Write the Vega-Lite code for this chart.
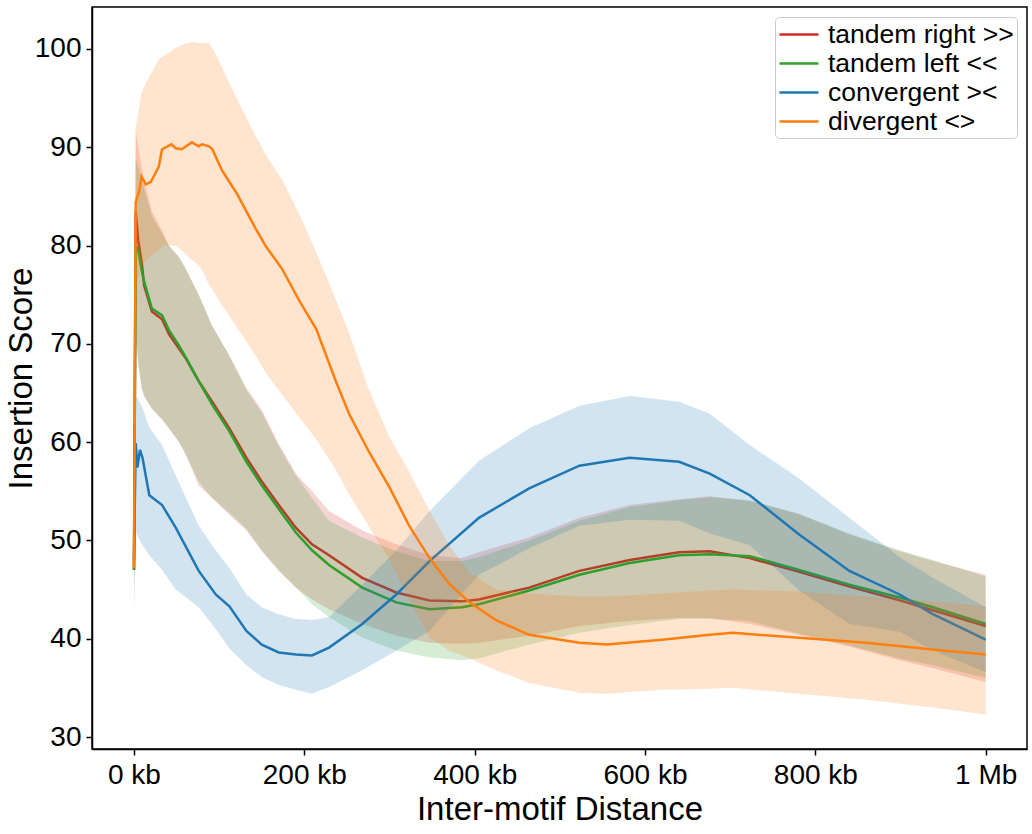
{
  "$schema": "https://vega.github.io/schema/vega-lite/v6.json",
  "width": 935,
  "height": 742,
  "autosize": {"type": "none"},
  "padding": {"left": 92, "top": 7, "right": 5, "bottom": 85},
  "background": "white",
  "config": {
    "font": "Liberation Sans",
    "view": {"stroke": "black", "strokeWidth": 1.5},
    "axis": {
      "grid": false,
      "domainColor": "black",
      "domainWidth": 1.5,
      "tickColor": "black",
      "tickWidth": 1.5,
      "tickSize": 6,
      "labelColor": "black",
      "labelFontSize": 28,
      "labelFont": "Liberation Sans",
      "titleColor": "black",
      "titleFontSize": 33,
      "titleFontWeight": "normal",
      "titleFont": "Liberation Sans"
    }
  },
  "data": {
    "values": [
      {"s": "tandem right >>", "x": 0, "m": 47.0, "lo": 42.5, "hi": 51.5},
      {"s": "tandem right >>", "x": 2, "m": 83.5, "lo": 72.0, "hi": 91.8},
      {"s": "tandem right >>", "x": 5, "m": 80.5, "lo": 68.0, "hi": 90.0},
      {"s": "tandem right >>", "x": 9, "m": 78.3, "lo": 65.5, "hi": 88.0},
      {"s": "tandem right >>", "x": 12, "m": 75.9, "lo": 64.7, "hi": 86.5},
      {"s": "tandem right >>", "x": 21, "m": 73.3, "lo": 63.4, "hi": 83.5},
      {"s": "tandem right >>", "x": 33, "m": 72.5, "lo": 62.3, "hi": 81.5},
      {"s": "tandem right >>", "x": 41, "m": 71.0, "lo": 61.4, "hi": 80.0},
      {"s": "tandem right >>", "x": 53, "m": 69.5, "lo": 60.0, "hi": 78.8},
      {"s": "tandem right >>", "x": 61, "m": 68.5, "lo": 58.7, "hi": 77.6},
      {"s": "tandem right >>", "x": 76, "m": 66.2, "lo": 55.6, "hi": 75.0},
      {"s": "tandem right >>", "x": 92, "m": 64.1, "lo": 54.3, "hi": 71.8},
      {"s": "tandem right >>", "x": 112, "m": 61.4, "lo": 52.6, "hi": 68.8},
      {"s": "tandem right >>", "x": 132, "m": 58.4, "lo": 51.0, "hi": 65.5},
      {"s": "tandem right >>", "x": 150, "m": 56.0, "lo": 48.9, "hi": 63.3},
      {"s": "tandem right >>", "x": 170, "m": 53.6, "lo": 46.9, "hi": 59.8},
      {"s": "tandem right >>", "x": 190, "m": 51.3, "lo": 45.2, "hi": 56.8},
      {"s": "tandem right >>", "x": 209, "m": 49.6, "lo": 44.0, "hi": 55.0},
      {"s": "tandem right >>", "x": 229, "m": 48.5, "lo": 43.0, "hi": 53.0},
      {"s": "tandem right >>", "x": 268, "m": 46.2, "lo": 41.5, "hi": 51.0},
      {"s": "tandem right >>", "x": 308, "m": 44.7, "lo": 40.3, "hi": 49.6},
      {"s": "tandem right >>", "x": 347, "m": 43.9, "lo": 39.6, "hi": 48.5},
      {"s": "tandem right >>", "x": 385, "m": 43.8, "lo": 39.5, "hi": 48.2},
      {"s": "tandem right >>", "x": 405, "m": 44.0, "lo": 39.6, "hi": 48.8},
      {"s": "tandem right >>", "x": 464, "m": 45.2, "lo": 40.3, "hi": 50.3},
      {"s": "tandem right >>", "x": 523, "m": 46.9, "lo": 41.3, "hi": 52.3},
      {"s": "tandem right >>", "x": 582, "m": 48.0, "lo": 41.8, "hi": 53.6},
      {"s": "tandem right >>", "x": 640, "m": 48.8, "lo": 42.1, "hi": 54.2},
      {"s": "tandem right >>", "x": 676, "m": 48.9, "lo": 42.1, "hi": 54.5},
      {"s": "tandem right >>", "x": 723, "m": 48.2, "lo": 41.5, "hi": 54.0},
      {"s": "tandem right >>", "x": 781, "m": 46.8, "lo": 40.4, "hi": 52.7},
      {"s": "tandem right >>", "x": 840, "m": 45.3, "lo": 39.2, "hi": 50.6},
      {"s": "tandem right >>", "x": 899, "m": 43.9, "lo": 37.8, "hi": 48.9},
      {"s": "tandem right >>", "x": 938, "m": 42.9, "lo": 37.0, "hi": 47.9},
      {"s": "tandem right >>", "x": 1000, "m": 41.3, "lo": 35.6, "hi": 46.5},

      {"s": "tandem left <<", "x": 0, "m": 47.0, "lo": 42.0, "hi": 50.5},
      {"s": "tandem left <<", "x": 2, "m": 80.0, "lo": 70.5, "hi": 88.8},
      {"s": "tandem left <<", "x": 5, "m": 79.5, "lo": 68.0, "hi": 88.0},
      {"s": "tandem left <<", "x": 9, "m": 77.5, "lo": 65.5, "hi": 86.8},
      {"s": "tandem left <<", "x": 12, "m": 76.3, "lo": 64.7, "hi": 85.8},
      {"s": "tandem left <<", "x": 21, "m": 73.6, "lo": 63.4, "hi": 83.0},
      {"s": "tandem left <<", "x": 33, "m": 72.9, "lo": 62.3, "hi": 81.2},
      {"s": "tandem left <<", "x": 41, "m": 71.4, "lo": 61.4, "hi": 80.0},
      {"s": "tandem left <<", "x": 53, "m": 69.8, "lo": 60.0, "hi": 78.8},
      {"s": "tandem left <<", "x": 61, "m": 68.6, "lo": 58.7, "hi": 77.6},
      {"s": "tandem left <<", "x": 76, "m": 66.2, "lo": 56.0, "hi": 75.0},
      {"s": "tandem left <<", "x": 92, "m": 63.8, "lo": 54.3, "hi": 71.8},
      {"s": "tandem left <<", "x": 112, "m": 61.1, "lo": 52.8, "hi": 68.8},
      {"s": "tandem left <<", "x": 132, "m": 58.0, "lo": 51.2, "hi": 65.3},
      {"s": "tandem left <<", "x": 150, "m": 55.6, "lo": 49.0, "hi": 63.0},
      {"s": "tandem left <<", "x": 170, "m": 53.2, "lo": 47.0, "hi": 59.6},
      {"s": "tandem left <<", "x": 190, "m": 50.8, "lo": 45.2, "hi": 56.6},
      {"s": "tandem left <<", "x": 209, "m": 49.0, "lo": 43.5, "hi": 54.3},
      {"s": "tandem left <<", "x": 229, "m": 47.5, "lo": 42.2, "hi": 52.0},
      {"s": "tandem left <<", "x": 268, "m": 45.2, "lo": 40.1, "hi": 50.3},
      {"s": "tandem left <<", "x": 308, "m": 43.7, "lo": 38.8, "hi": 48.9},
      {"s": "tandem left <<", "x": 347, "m": 43.0, "lo": 38.1, "hi": 47.9},
      {"s": "tandem left <<", "x": 385, "m": 43.2, "lo": 37.8, "hi": 47.9},
      {"s": "tandem left <<", "x": 405, "m": 43.5, "lo": 38.0, "hi": 48.3},
      {"s": "tandem left <<", "x": 464, "m": 44.9, "lo": 39.4, "hi": 50.0},
      {"s": "tandem left <<", "x": 523, "m": 46.5, "lo": 40.6, "hi": 52.0},
      {"s": "tandem left <<", "x": 582, "m": 47.7, "lo": 41.4, "hi": 53.4},
      {"s": "tandem left <<", "x": 640, "m": 48.5, "lo": 42.0, "hi": 54.1},
      {"s": "tandem left <<", "x": 676, "m": 48.6, "lo": 42.0, "hi": 54.4},
      {"s": "tandem left <<", "x": 723, "m": 48.4, "lo": 41.8, "hi": 54.1},
      {"s": "tandem left <<", "x": 781, "m": 47.0, "lo": 40.5, "hi": 52.7},
      {"s": "tandem left <<", "x": 840, "m": 45.5, "lo": 39.3, "hi": 50.7},
      {"s": "tandem left <<", "x": 899, "m": 44.2, "lo": 38.0, "hi": 49.0},
      {"s": "tandem left <<", "x": 938, "m": 43.2, "lo": 37.3, "hi": 48.0},
      {"s": "tandem left <<", "x": 1000, "m": 41.5, "lo": 36.0, "hi": 46.3},

      {"s": "convergent ><", "x": 0, "m": 48.0, "lo": 44.0, "hi": 52.0},
      {"s": "convergent ><", "x": 2, "m": 59.9, "lo": 51.0, "hi": 64.7},
      {"s": "convergent ><", "x": 4, "m": 57.4, "lo": 50.5, "hi": 64.5},
      {"s": "convergent ><", "x": 7, "m": 59.2, "lo": 50.0, "hi": 64.0},
      {"s": "convergent ><", "x": 10, "m": 58.4, "lo": 49.5, "hi": 63.5},
      {"s": "convergent ><", "x": 18, "m": 54.6, "lo": 48.5, "hi": 61.5},
      {"s": "convergent ><", "x": 33, "m": 53.6, "lo": 47.0, "hi": 59.7},
      {"s": "convergent ><", "x": 49, "m": 51.3, "lo": 45.0, "hi": 56.6},
      {"s": "convergent ><", "x": 76, "m": 46.9, "lo": 43.2, "hi": 51.5},
      {"s": "convergent ><", "x": 96, "m": 44.5, "lo": 41.0, "hi": 49.0},
      {"s": "convergent ><", "x": 112, "m": 43.3, "lo": 39.0, "hi": 47.2},
      {"s": "convergent ><", "x": 132, "m": 40.8, "lo": 37.3, "hi": 44.5},
      {"s": "convergent ><", "x": 150, "m": 39.4, "lo": 36.1, "hi": 43.2},
      {"s": "convergent ><", "x": 170, "m": 38.6, "lo": 35.3, "hi": 42.5},
      {"s": "convergent ><", "x": 190, "m": 38.4, "lo": 34.8, "hi": 42.0},
      {"s": "convergent ><", "x": 209, "m": 38.3, "lo": 34.4, "hi": 41.9},
      {"s": "convergent ><", "x": 229, "m": 39.1, "lo": 35.1, "hi": 42.2},
      {"s": "convergent ><", "x": 268, "m": 41.5, "lo": 36.8, "hi": 45.5},
      {"s": "convergent ><", "x": 308, "m": 44.5, "lo": 38.8, "hi": 49.0},
      {"s": "convergent ><", "x": 347, "m": 47.9, "lo": 40.8, "hi": 53.0},
      {"s": "convergent ><", "x": 405, "m": 52.3, "lo": 46.5, "hi": 58.1},
      {"s": "convergent ><", "x": 464, "m": 55.3, "lo": 49.2, "hi": 61.4},
      {"s": "convergent ><", "x": 523, "m": 57.6, "lo": 51.5, "hi": 63.7},
      {"s": "convergent ><", "x": 582, "m": 58.4, "lo": 52.1, "hi": 64.7},
      {"s": "convergent ><", "x": 640, "m": 58.0, "lo": 52.0, "hi": 64.1},
      {"s": "convergent ><", "x": 676, "m": 56.8, "lo": 50.7, "hi": 62.9},
      {"s": "convergent ><", "x": 723, "m": 54.6, "lo": 49.5, "hi": 59.7},
      {"s": "convergent ><", "x": 781, "m": 50.6, "lo": 44.9, "hi": 56.3},
      {"s": "convergent ><", "x": 840, "m": 46.9, "lo": 41.5, "hi": 52.3},
      {"s": "convergent ><", "x": 899, "m": 44.5, "lo": 40.7, "hi": 48.3},
      {"s": "convergent ><", "x": 938, "m": 42.5, "lo": 38.8, "hi": 46.2},
      {"s": "convergent ><", "x": 1000, "m": 39.9, "lo": 36.6, "hi": 43.2},

      {"s": "divergent <>", "x": 0, "m": 47.2, "lo": 41.3, "hi": 52.5},
      {"s": "divergent <>", "x": 2, "m": 84.4, "lo": 76.0, "hi": 92.0},
      {"s": "divergent <>", "x": 6, "m": 85.5, "lo": 77.0, "hi": 94.0},
      {"s": "divergent <>", "x": 9, "m": 87.0, "lo": 78.0, "hi": 95.6},
      {"s": "divergent <>", "x": 14, "m": 86.2, "lo": 78.5, "hi": 96.5},
      {"s": "divergent <>", "x": 20, "m": 86.5, "lo": 79.0, "hi": 97.5},
      {"s": "divergent <>", "x": 29, "m": 88.0, "lo": 79.5, "hi": 98.9},
      {"s": "divergent <>", "x": 33, "m": 89.8, "lo": 80.0, "hi": 99.2},
      {"s": "divergent <>", "x": 44, "m": 90.3, "lo": 80.0, "hi": 99.8},
      {"s": "divergent <>", "x": 49, "m": 89.9, "lo": 80.0, "hi": 100.1},
      {"s": "divergent <>", "x": 56, "m": 89.8, "lo": 79.5, "hi": 100.4},
      {"s": "divergent <>", "x": 68, "m": 90.5, "lo": 78.5, "hi": 100.7},
      {"s": "divergent <>", "x": 76, "m": 90.1, "lo": 78.0, "hi": 100.6},
      {"s": "divergent <>", "x": 80, "m": 90.3, "lo": 77.5, "hi": 100.6},
      {"s": "divergent <>", "x": 88, "m": 90.1, "lo": 76.0, "hi": 100.6},
      {"s": "divergent <>", "x": 92, "m": 89.8, "lo": 75.5, "hi": 100.1},
      {"s": "divergent <>", "x": 103, "m": 87.7, "lo": 74.0, "hi": 98.2},
      {"s": "divergent <>", "x": 120, "m": 85.4, "lo": 71.8, "hi": 95.1},
      {"s": "divergent <>", "x": 143, "m": 81.7, "lo": 68.8, "hi": 91.1},
      {"s": "divergent <>", "x": 155, "m": 79.9, "lo": 67.0, "hi": 89.2},
      {"s": "divergent <>", "x": 174, "m": 77.6, "lo": 64.8, "hi": 86.7},
      {"s": "divergent <>", "x": 194, "m": 74.4, "lo": 62.5, "hi": 83.2},
      {"s": "divergent <>", "x": 214, "m": 71.5, "lo": 60.3, "hi": 79.3},
      {"s": "divergent <>", "x": 237, "m": 66.2, "lo": 57.2, "hi": 74.5},
      {"s": "divergent <>", "x": 253, "m": 62.8, "lo": 54.6, "hi": 71.0},
      {"s": "divergent <>", "x": 276, "m": 59.0, "lo": 51.4, "hi": 65.3},
      {"s": "divergent <>", "x": 300, "m": 55.4, "lo": 48.0, "hi": 60.5},
      {"s": "divergent <>", "x": 323, "m": 51.5, "lo": 44.0, "hi": 57.0},
      {"s": "divergent <>", "x": 347, "m": 48.2, "lo": 40.1, "hi": 53.0},
      {"s": "divergent <>", "x": 370, "m": 45.6, "lo": 38.8, "hi": 49.5},
      {"s": "divergent <>", "x": 394, "m": 43.7, "lo": 38.0, "hi": 46.7},
      {"s": "divergent <>", "x": 425, "m": 41.9, "lo": 36.8, "hi": 45.0},
      {"s": "divergent <>", "x": 464, "m": 40.4, "lo": 35.5, "hi": 44.6},
      {"s": "divergent <>", "x": 523, "m": 39.6, "lo": 34.5, "hi": 44.3},
      {"s": "divergent <>", "x": 555, "m": 39.4, "lo": 34.4, "hi": 44.3},
      {"s": "divergent <>", "x": 620, "m": 39.9, "lo": 34.8, "hi": 44.6},
      {"s": "divergent <>", "x": 676, "m": 40.4, "lo": 34.9, "hi": 44.9},
      {"s": "divergent <>", "x": 703, "m": 40.6, "lo": 35.0, "hi": 45.0},
      {"s": "divergent <>", "x": 781, "m": 40.1, "lo": 34.4, "hi": 44.8},
      {"s": "divergent <>", "x": 860, "m": 39.6, "lo": 33.8, "hi": 44.3},
      {"s": "divergent <>", "x": 938, "m": 38.9, "lo": 33.0, "hi": 43.8},
      {"s": "divergent <>", "x": 1000, "m": 38.4, "lo": 32.3, "hi": 43.3}
    ]
  },
  "encoding": {
    "x": {
      "field": "x",
      "type": "quantitative",
      "title": "Inter-motif Distance",
      "scale": {"domain": [-49.3, 1048.5], "nice": false, "zero": false},
      "axis": {
        "values": [0, 200, 400, 600, 800, 1000],
        "labelExpr": "datum.value == 1000 ? '1 Mb' : datum.value + ' kb'",
        "labelPadding": 6,
        "titlePadding": 4
      }
    }
  },
  "layer": [
    {
      "transform": [{"filter": "datum.s == 'tandem right >>'"}],
      "mark": {"type": "area", "color": "#d62728", "opacity": 0.2},
      "encoding": {
        "y": {"field": "lo", "type": "quantitative"},
        "y2": {"field": "hi"}
      }
    },
    {
      "transform": [{"filter": "datum.s == 'tandem right >>'"}],
      "mark": {"type": "line", "strokeWidth": 2.5},
      "encoding": {
        "y": {"field": "m", "type": "quantitative"},
        "stroke": {"field": "s", "type": "nominal"}
      }
    },
    {
      "transform": [{"filter": "datum.s == 'tandem left <<'"}],
      "mark": {"type": "area", "color": "#2ca02c", "opacity": 0.2},
      "encoding": {
        "y": {"field": "lo", "type": "quantitative"},
        "y2": {"field": "hi"}
      }
    },
    {
      "transform": [{"filter": "datum.s == 'tandem left <<'"}],
      "mark": {"type": "line", "strokeWidth": 2.5},
      "encoding": {
        "y": {"field": "m", "type": "quantitative"},
        "stroke": {"field": "s", "type": "nominal"}
      }
    },
    {
      "transform": [{"filter": "datum.s == 'convergent ><'"}],
      "mark": {"type": "area", "color": "#1f77b4", "opacity": 0.2},
      "encoding": {
        "y": {"field": "lo", "type": "quantitative"},
        "y2": {"field": "hi"}
      }
    },
    {
      "transform": [{"filter": "datum.s == 'convergent ><'"}],
      "mark": {"type": "line", "strokeWidth": 2.5},
      "encoding": {
        "y": {"field": "m", "type": "quantitative"},
        "stroke": {"field": "s", "type": "nominal"}
      }
    },
    {
      "transform": [{"filter": "datum.s == 'divergent <>'"}],
      "mark": {"type": "area", "color": "#ff7f0e", "opacity": 0.2},
      "encoding": {
        "y": {"field": "lo", "type": "quantitative"},
        "y2": {"field": "hi"}
      }
    },
    {
      "transform": [{"filter": "datum.s == 'divergent <>'"}],
      "mark": {"type": "line", "strokeWidth": 2.5},
      "encoding": {
        "y": {
          "field": "m",
          "type": "quantitative",
          "title": "Insertion Score",
          "scale": {"domain": [28.78, 104.27], "nice": false, "zero": false},
          "axis": {
            "values": [30, 40, 50, 60, 70, 80, 90, 100],
            "labelPadding": 5,
            "titlePadding": -4
          }
        },
        "stroke": {
          "field": "s",
          "type": "nominal",
          "scale": {"domain": ["tandem right >>", "tandem left <<", "convergent ><", "divergent <>"], "range": ["#d62728", "#2ca02c", "#1f77b4", "#ff7f0e"]},
          "legend": {
            "title": null,
            "orient": "top-right",
            "offset": 10,
            "symbolType": "M-1,0L2,0",
            "symbolSize": 676,
            "symbolStrokeWidth": 2.5,
            "labelFontSize": 26.5,
            "labelFont": "Liberation Sans",
            "labelColor": "black",
            "labelLimit": 400,
            "labelOffset": 21,
            "rowPadding": 1,
            "padding": 3,
            "strokeColor": "#cccccc",
            "fillColor": "white",
            "cornerRadius": 4
          }
        }
      }
    }
  ]
}
